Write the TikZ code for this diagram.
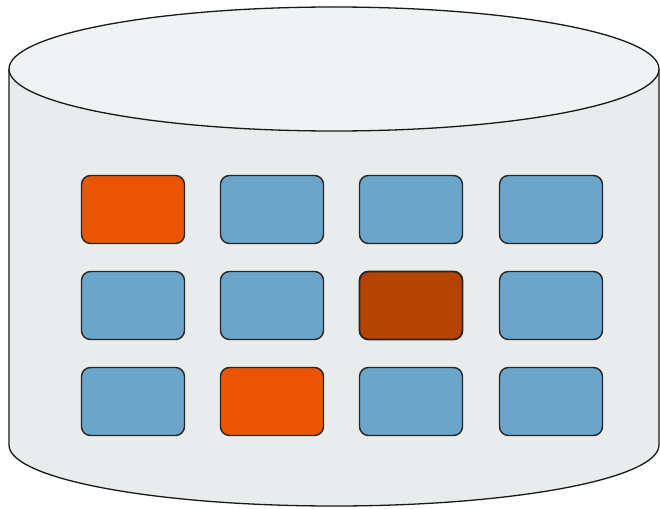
\documentclass[tikz,border=0pt]{standalone}
\begin{document}
\begin{tikzpicture}[x=1pt,y=-1pt,
  cellbox/.style={draw=black!85,line width=1.4pt,rounded corners=9pt,minimum width=103pt,minimum height=68pt,inner sep=0pt},
  blue/.style={cellbox,fill=cellblue},
  hot/.style={cellbox,fill=cellorange},
  dark/.style={cellbox,fill=celldark,line width=1.8pt}]
\definecolor{cellblue}{HTML}{6BA5CA}
\definecolor{cellorange}{HTML}{EA5504}
\definecolor{celldark}{HTML}{B54400}
\definecolor{bodyc}{HTML}{E8ECED}
\definecolor{topc}{HTML}{EFF3F4}
\useasboundingbox (0,0) rectangle (660,508);
% body
\draw[line width=1.3pt,fill=bodyc,draw=black!90]
  (9,69) -- (9,445) arc[start angle=180,end angle=0,x radius=325,y radius=61]
  -- (659,69);
% top
\draw[line width=1.3pt,fill=topc,draw=black!90] (334,69) ellipse[x radius=325,y radius=62];
% cells
\foreach \r/\yy in {1/209.5,2/305.5,3/401.5}{
  \foreach \c/\xx in {1/133,2/272,3/411,4/551}{
    \coordinate (p\r\c) at (\xx,\yy);
  }
}
\node[hot]  (c11) at (p11) {};
\node[blue] (c12) at (p12) {};
\node[blue] (c13) at (p13) {};
\node[blue] (c14) at (p14) {};
\node[blue] (c21) at (p21) {};
\node[blue] (c22) at (p22) {};
\node[dark] (c23) at (p23) {};
\node[blue] (c24) at (p24) {};
\node[blue] (c31) at (p31) {};
\node[hot]  (c32) at (p32) {};
\node[blue] (c33) at (p33) {};
\node[blue] (c34) at (p34) {};
\end{tikzpicture}
\end{document}
